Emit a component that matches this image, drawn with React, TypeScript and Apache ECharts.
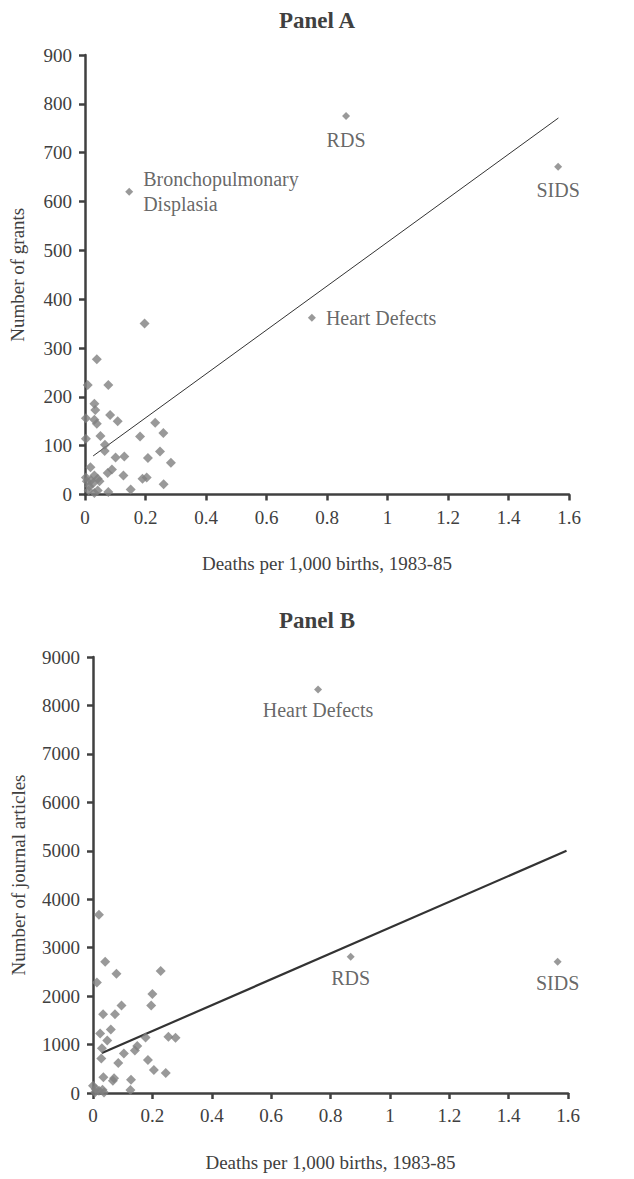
import React, { useEffect, useRef } from "react";
import * as echarts from "echarts";

// ---------- Data ----------
const xTitle = "Deaths per 1,000 births, 1983-85";

// Panel A: number of grants
const panelAPoints: [number, number][] = [
  [0.197, 350], [0.039, 277], [0.009, 224], [0.077, 224], [0.031, 186],
  [0.034, 173], [0.003, 156], [0.031, 153], [0.039, 145], [0.083, 163],
  [0.108, 150], [0.051, 120], [0.003, 114], [0.066, 102], [0.065, 89],
  [0.101, 76], [0.13, 78], [0.182, 119], [0.232, 147], [0.259, 126],
  [0.248, 88], [0.208, 75], [0.284, 65], [0.018, 56], [0.075, 44],
  [0.089, 51], [0.127, 39], [0.19, 32], [0.204, 35], [0.26, 21],
  [0.151, 10], [0.077, 5], [0.003, 35], [0.006, 27], [0.02, 29],
  [0.031, 39], [0.042, 32], [0.048, 27], [0.025, 22], [0.012, 8],
  [0.031, 3], [0.042, 8], [0.014, 17],
];
const panelANames = ["RDS", "SIDS", "Heart Defects", "Bronchopulmonary\nDisplasia"];
const panelANamedX = [0.863, 1.564, 0.75, 0.146];
const panelANamedY = [775, 671, 362, 620];
const panelATrendX = [0.027, 1.565];
const panelATrendY = [79, 771];

// Panel B: number of journal articles
const panelBPoints: [number, number][] = [
  [0.02, 3680], [0.041, 2710], [0.079, 2462], [0.013, 2283], [0.228, 2517],
  [0.2, 2041], [0.196, 1807], [0.096, 1807], [0.074, 1628], [0.034, 1628],
  [0.06, 1310], [0.024, 1228], [0.048, 1083], [0.03, 924], [0.028, 710],
  [0.177, 1145], [0.254, 1159], [0.278, 1138], [0.149, 972], [0.141, 876],
  [0.104, 814], [0.185, 683], [0.085, 621], [0.205, 476], [0.245, 414],
  [0.035, 324], [0.071, 303], [0.067, 255], [0.128, 276], [0.126, 62],
  [0.0, 152], [0.009, 83], [0.02, 48], [0.032, 69], [0.037, 10],
  [0.007, 14],
];
const panelBNames = ["Heart Defects", "RDS", "SIDS"];
const panelBNamedX = [0.758, 0.868, 1.565];
const panelBNamedY = [8330, 2815, 2710];
const panelBTrendX = [0.03, 1.595];
const panelBTrendY = [825, 5000];

// ---------- Styling ----------
const FONT = "Liberation Serif";
const TEXT = "#404040";
const AXIS = "#404040";
const MARK = "#808080";

const axisCommon = {
  axisLine: { show: true, lineStyle: { color: AXIS, width: 2.5 } },
  axisTick: { show: true, length: 6, lineStyle: { color: AXIS, width: 2.5 } },
  splitLine: { show: false },
  axisLabel: { color: TEXT, fontFamily: FONT, fontSize: 19, margin: 13, formatter: (v: number) => String(v) },
  nameTextStyle: { color: TEXT, fontFamily: FONT, fontSize: 19 },
};

const labelStyle = { color: TEXT, fontFamily: FONT, fontSize: 20 };

export default function App() {
  const ref = useRef<HTMLDivElement>(null);

  useEffect(() => {
    if (!ref.current) return;
    const chart = echarts.init(ref.current, undefined, { renderer: "svg" });

    const namedA = panelANames.map((n, i) => {
      const pos = n === "RDS" || n === "SIDS" ? "bottom" : "right";
      return {
        name: n,
        value: [panelANamedX[i], panelANamedY[i]],
        label: {
          show: true,
          formatter: n,
          position: pos,
          distance: pos === "bottom" ? 7 : 10,
          lineHeight: 25,
          align: pos === "right" ? "left" : "center",
          ...labelStyle,
        },
      };
    });
    const namedB = panelBNames.map((n, i) => ({
      name: n,
      value: [panelBNamedX[i], panelBNamedY[i]],
      label: {
        show: true,
        formatter: n,
        position: "bottom",
        distance: 7,
        ...labelStyle,
      },
    }));

    const titleStyle = { fontFamily: FONT, fontWeight: "bold", fontSize: 23, color: TEXT };

    chart.setOption({
      animation: false,
      backgroundColor: "#ffffff",
      title: [
        { text: "Panel A", left: "center", top: 4, textStyle: titleStyle },
        { text: "Panel B", left: "center", top: 604, textStyle: titleStyle },
      ],
      grid: [
        { left: 85, top: 55, width: 484, height: 439.5 },
        { left: 93, top: 657, width: 475, height: 436 },
      ],
      xAxis: [
        {
          ...axisCommon,
          type: "value",
          gridIndex: 0,
          min: 0,
          max: 1.6,
          interval: 0.2,
          name: xTitle,
          nameLocation: "middle",
          nameGap: 59,
        },
        {
          ...axisCommon,
          type: "value",
          gridIndex: 1,
          min: 0,
          max: 1.6,
          interval: 0.2,
          name: xTitle,
          nameLocation: "middle",
          nameGap: 60,
        },
      ],
      yAxis: [
        {
          ...axisCommon,
          type: "value",
          gridIndex: 0,
          min: 0,
          max: 900,
          interval: 100,
          name: "Number of grants",
          nameLocation: "middle",
          nameRotate: 90,
          nameGap: 58,
        },
        {
          ...axisCommon,
          type: "value",
          gridIndex: 1,
          min: 0,
          max: 9000,
          interval: 1000,
          name: "Number of journal articles",
          nameLocation: "middle",
          nameRotate: 90,
          nameGap: 65,
        },
      ],
      series: [
        {
          type: "line",
          xAxisIndex: 0,
          yAxisIndex: 0,
          data: panelATrendX.map((x, i) => [x, panelATrendY[i]]),
          showSymbol: false,
          lineStyle: { color: "#333333", width: 1 },
          z: 1,
        },
        {
          type: "scatter",
          xAxisIndex: 0,
          yAxisIndex: 0,
          symbol: "diamond",
          symbolSize: 10,
          itemStyle: { color: MARK },
          data: panelAPoints,
          z: 2,
        },
        {
          type: "scatter",
          xAxisIndex: 0,
          yAxisIndex: 0,
          symbol: "diamond",
          symbolSize: 8,
          itemStyle: { color: MARK },
          data: namedA,
          z: 2,
        },
        {
          type: "line",
          xAxisIndex: 1,
          yAxisIndex: 1,
          data: panelBTrendX.map((x, i) => [x, panelBTrendY[i]]),
          showSymbol: false,
          lineStyle: { color: "#333333", width: 2.2 },
          z: 1,
        },
        {
          type: "scatter",
          xAxisIndex: 1,
          yAxisIndex: 1,
          symbol: "diamond",
          symbolSize: 10,
          itemStyle: { color: MARK },
          data: panelBPoints,
          z: 2,
        },
        {
          type: "scatter",
          xAxisIndex: 1,
          yAxisIndex: 1,
          symbol: "diamond",
          symbolSize: 8,
          itemStyle: { color: MARK },
          data: namedB,
          z: 2,
        },
      ],
    });

    return () => chart.dispose();
  }, []);

  return (
    <div
      ref={ref}
      style={{ position: "absolute", left: 0, top: 0, width: 634, height: 1179, background: "#fff" }}
    />
  );
}
